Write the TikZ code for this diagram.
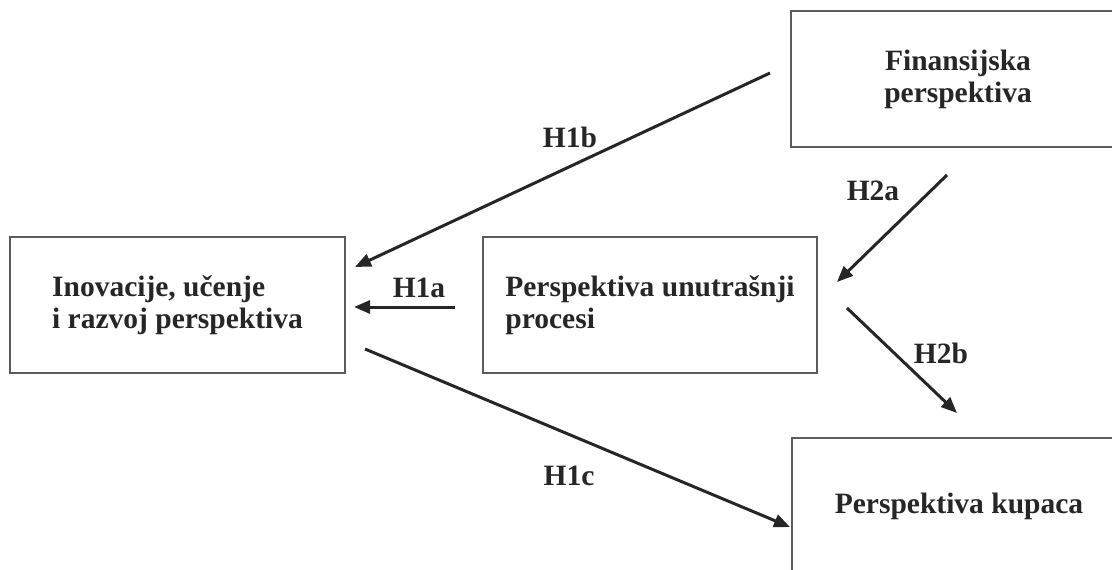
\documentclass[tikz,border=0pt]{standalone}
\usepackage{fontspec}
\setmainfont{Liberation Serif}
\usetikzlibrary{arrows.meta}
\definecolor{ink}{HTML}{262626}
\definecolor{frame}{HTML}{5C5C5C}
\begin{document}
\begin{tikzpicture}[x=1pt,y=-1pt,
  txt/.style={text=ink,font=\bfseries\fontsize{29.5}{32}\selectfont},
  box/.style={txt,draw=frame,line width=1.4pt,inner sep=0pt,minimum height=136pt},
  link/.style={draw=ink,line width=3pt,-{Triangle[length=16pt,width=13pt]}},
  tag/.style={txt,anchor=base,inner sep=0pt}]
\useasboundingbox (0,0) rectangle (1112,570);
\clip (0,0) rectangle (1112,570);

% perspective boxes
\node[box,align=left,minimum width=335pt] (inov) at (177.5,305)
  {Inovacije, učenje\\i razvoj perspektiva};
\node[box,align=left,minimum width=334pt] (proc) at (650,305)
  {Perspektiva unutrašnji\\procesi};
\node[box,align=center,minimum width=334pt] (fin) at (958,79)
  {Finansijska\\perspektiva};
\node[box,align=center,minimum width=334pt,minimum height=137pt] (kup) at (959,506.5)
  {Perspektiva kupaca};

% free ends of the hypothesis arrows
\coordinate (h1b-s) at (770,73);
\coordinate (h1b-e) at (355,267);
\coordinate (h1a-s) at (455,307);
\coordinate (h1a-e) at (354,307);
\coordinate (h1c-s) at (365,349);
\coordinate (h1c-e) at (790,527);
\coordinate (h2a-s) at (947,175);
\coordinate (h2a-e) at (837,282);
\coordinate (h2b-s) at (847,308);
\coordinate (h2b-e) at (957,413);

\draw[link] (h1b-s) -- (h1b-e);
\draw[link] (h1a-s) -- (h1a-e);
\draw[link] (h1c-s) -- (h1c-e);
\draw[link] (h2a-s) -- (h2a-e);
\draw[link] (h2b-s) -- (h2b-e);

% hypothesis labels
\node[tag] (l1b) at (570,147) {H1b};
\node[tag] (l1a) at (419,297) {H1a};
\node[tag] (l1c) at (569,485) {H1c};
\node[tag] (l2a) at (873,200) {H2a};
\node[tag] (l2b) at (941,363) {H2b};
\end{tikzpicture}
\end{document}
